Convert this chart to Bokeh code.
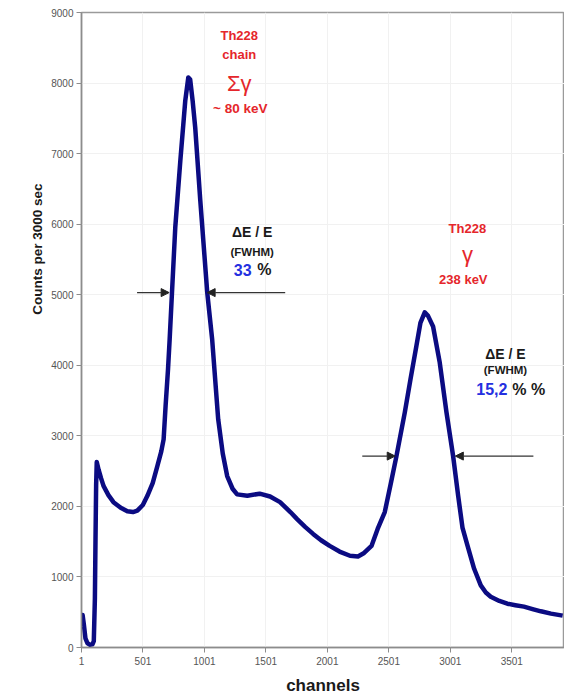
import math
from bokeh.plotting import figure
from bokeh.models import Label, Arrow, NormalHead, FixedTicker, Range1d, Title
from bokeh.embed import file_html
from bokeh.resources import INLINE

# ---- data ----
channels = [1, 10, 20, 33, 50, 70, 90, 101, 110, 115, 120, 125, 140, 160, 180,
            220, 261, 320, 374, 420, 455, 500, 537, 580, 618, 650, 669, 685, 705,
            718, 737, 764, 805, 845, 870, 885, 905, 926, 967, 1024, 1064, 1113,
            1150, 1186, 1230, 1267, 1350, 1450, 1535, 1616, 1700, 1755, 1820, 1885,
            1950, 2020, 2100, 2185, 2250, 2300, 2360, 2410, 2468, 2520, 2563, 2631,
            2677, 2725, 2758, 2793, 2820, 2861, 2915, 2970, 3024, 3065, 3100, 3141,
            3195, 3249, 3290, 3330, 3400, 3465, 3530, 3600, 3670, 3738, 3820, 3915]
counts = [300, 460, 330, 130, 60, 40, 45, 90, 700, 1540, 2300, 2630, 2520, 2400,
          2290, 2160, 2060, 1980, 1930, 1920, 1940, 2020, 2150, 2330, 2570, 2780,
          2950, 3420, 3950, 4364, 5028, 5960, 6900, 7750, 8080, 8050, 7750, 7370,
          6340, 5028, 4364, 3234, 2750, 2430, 2250, 2170, 2150, 2180, 2140, 2060,
          1920, 1820, 1710, 1610, 1520, 1440, 1360, 1300, 1290, 1340, 1440, 1680,
          1920, 2350, 2712, 3333, 3800, 4270, 4600, 4750, 4700, 4550, 4040, 3333,
          2712, 2150, 1700, 1445, 1116, 880, 780, 720, 660, 621, 600, 579, 545,
          513, 480, 452]

x_ticks = [1, 501, 1001, 1501, 2001, 2501, 3001, 3501]
y_ticks = [0, 1000, 2000, 3000, 4000, 5000, 6000, 7000, 8000, 9000]

FONT = "Liberation Sans"
RED = "#e5262b"
BLUE = "#2430e0"
DARK = "#1a1a1a"

p = figure(width=564, height=697, output_backend="svg", toolbar_location=None,
           x_range=Range1d(1, 3930), y_range=Range1d(0, 9000),
           min_border_left=81, min_border_right=0, min_border_top=12,
           min_border_bottom=48)
p.background_fill_color = "white"
p.border_fill_color = "white"
p.outline_line_color = "#9a9a9a"
p.outline_line_width = 1.5

p.xgrid.grid_line_color = "#f1f1f1"
p.ygrid.grid_line_color = "#f1f1f1"

p.xaxis.ticker = FixedTicker(ticks=x_ticks)
p.yaxis.ticker = FixedTicker(ticks=y_ticks)
for ax in (p.xaxis, p.yaxis):
    ax.axis_line_color = "#8c8c8c"
    ax.axis_line_width = 1.5
    ax.major_tick_line_color = "#8c8c8c"
    ax.major_tick_out = 5
    ax.major_tick_in = 0
    ax.minor_tick_line_color = None
    ax.major_label_text_font = FONT
    ax.major_label_text_font_size = "10px"
    ax.major_label_text_color = "#555555"
p.yaxis.major_label_standoff = 3
p.xaxis.major_label_standoff = 4

p.xaxis.axis_label = "channels"
p.xaxis.axis_label_text_font = FONT
p.xaxis.axis_label_text_font_style = "bold"
p.xaxis.axis_label_text_font_size = "17px"
p.xaxis.axis_label_text_color = DARK
p.xaxis.axis_label_standoff = 8

p.line(channels, counts, line_color="#0b0b82", line_width=4.5, line_join="round")

# y axis title, placed off-centre (towards the top) like the reference
p.add_layout(Title(text="Counts per 3000 sec", align="right", offset=171,
                   text_font=FONT, text_font_style="bold", text_font_size="13.5px",
                   text_color=DARK, standoff=8), "left")


def lab(x, y, text, color, size, align="center", style="bold"):
    p.add_layout(Label(x=x, y=y, text=text, text_align=align, text_baseline="middle",
                       text_font=FONT, text_font_style=style, text_font_size=size,
                       text_color=color))


# peak 1 annotations
lab(1284, 8675, "Th228", RED, "13px")
lab(1284, 8406, "chain", RED, "13px")
lab(1284, 7997, "Σγ", RED, "22px", style="normal")
lab(1292, 7643, "~ 80 keV", RED, "13.5px")
lab(1389, 5891, "ΔE / E", DARK, "14px")
lab(1389, 5609, "(FWHM)", DARK, "11.5px")
lab(1385, 5355, "33", BLUE, "16px", align="right")
lab(1430, 5355, "%", DARK, "16px", align="left")

# peak 2 annotations
lab(3140, 5934, "Th228", RED, "13px")
lab(3140, 5567, "γ", RED, "22px", style="normal")
lab(3107, 5213, "238 keV", RED, "13px")
lab(3450, 4154, "ΔE / E", DARK, "14px")
lab(3450, 3928, "(FWHM)", DARK, "11.5px")
lab(3466, 3659, "15,2", BLUE, "16px", align="right")
lab(3505, 3659, "% %", DARK, "16px", align="left")

# FWHM arrows
for x0, x1, y in [(453, 714, 5030), (1658, 1023, 5030),
                  (2285, 2553, 2713), (3677, 3042, 2713)]:
    p.add_layout(Arrow(x_start=x0, y_start=y, x_end=x1, y_end=y,
                       line_color="#333333", line_width=1.2,
                       end=NormalHead(size=8, fill_color="#222222",
                                      line_color="#222222")))

open("out.html", "w").write(file_html(p, INLINE))
